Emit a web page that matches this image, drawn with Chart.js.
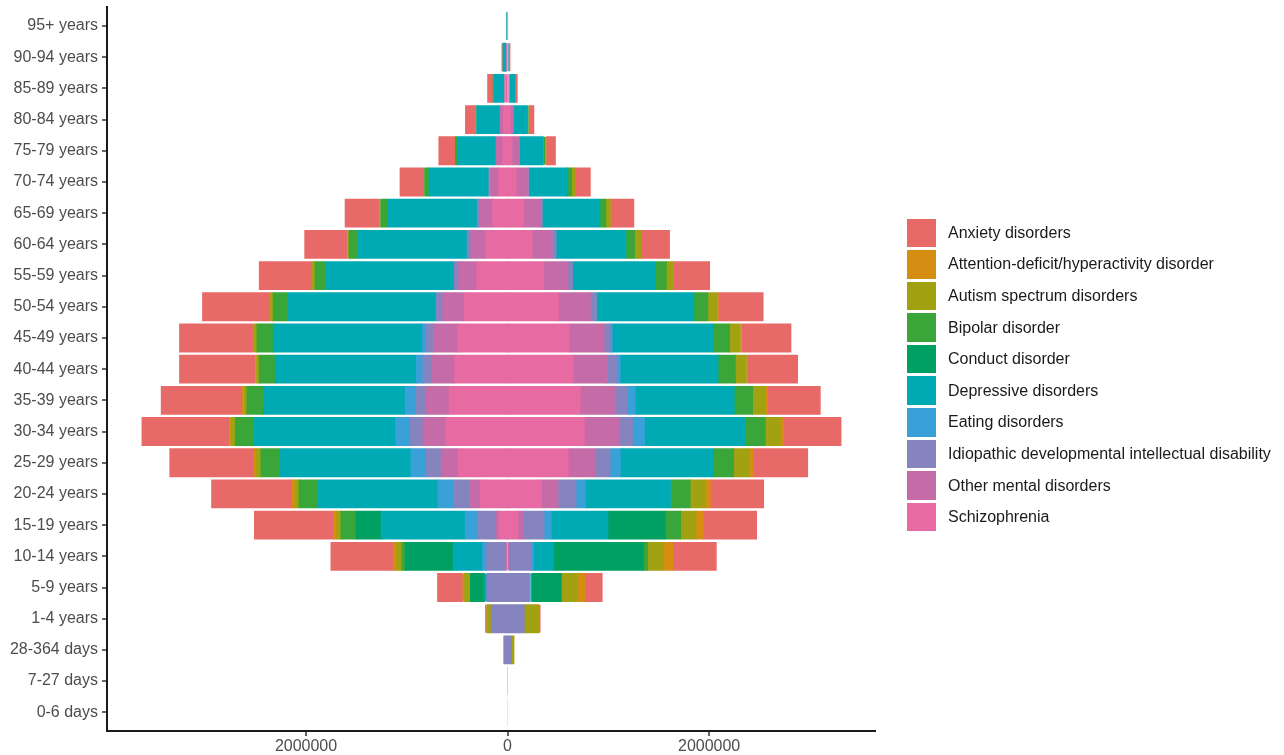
<!DOCTYPE html>
<html>
<head>
<meta charset="utf-8">
<script src="https://cdn.jsdelivr.net/npm/chart.js@4/dist/chart.umd.min.js"></script>
<style>
  html, body { margin: 0; padding: 0; background: #ffffff; }
  #wrap { position: relative; width: 1284px; height: 755px; overflow: hidden; }
  #pyramid { position: absolute; left: 0; top: 0; }
  #legend {
    position: absolute; left: 907px; top: 217px;
    font-family: "Liberation Sans", Arial, sans-serif; font-size: 16px; color: #1a1a1a;
  }
  #legend .item { display: flex; align-items: center; height: 31.6px; white-space: nowrap; }
  #legend .key { width: 29px; height: 28.6px; margin-right: 12px; flex: none; }
</style>
</head>
<body>
<div id="wrap">
  <canvas id="pyramid" width="1284" height="755"></canvas>
  <div id="legend"></div>
</div>
<script>
// Age groups, youngest first (drawn bottom to top)
const ageGroups = [
  "0-6 days", "7-27 days", "28-364 days", "1-4 years", "5-9 years", "10-14 years",
  "15-19 years", "20-24 years", "25-29 years", "30-34 years", "35-39 years", "40-44 years",
  "45-49 years", "50-54 years", "55-59 years", "60-64 years", "65-69 years", "70-74 years",
  "75-79 years", "80-84 years", "85-89 years", "90-94 years", "95+ years"
];

// Disorder names in legend order
const disorders = [
  "Anxiety disorders",
  "Attention-deficit/hyperactivity disorder",
  "Autism spectrum disorders",
  "Bipolar disorder",
  "Conduct disorder",
  "Depressive disorders",
  "Eating disorders",
  "Idiopathic developmental intellectual disability",
  "Other mental disorders",
  "Schizophrenia"
];

const disorderColors = [
  "#e86a68", "#d68e12", "#a1a112", "#3aa63a", "#00a062",
  "#00aab4", "#3aa0d8", "#8684be", "#c56ca8", "#e86aa2"
];

// Prevalent cases per age group, left half of the pyramid
const anxietyLeft    = [0, 0, 0, 17000, 248000, 618000, 784000, 801000, 837000, 869000, 801000, 751000, 728000, 668000, 523000, 423000, 340000, 234000, 159000, 99000, 50000, 13000, 3000];
const adhdLeft       = [0, 0, 0, 1000, 17000, 34000, 34000, 26000, 20000, 14000, 17000, 13000, 13000, 10000, 5000, 5000, 3000, 2000, 1000, 1000, 0, 0, 0];
const autismLeft     = [0, 0, 5000, 43000, 60000, 53000, 40000, 40000, 47000, 43000, 33000, 27000, 27000, 23000, 25000, 12000, 11000, 8000, 4000, 2000, 1000, 0, 0];
const bipolarLeft    = [0, 0, 0, 0, 2000, 33000, 152000, 183000, 192000, 189000, 165000, 159000, 162000, 143000, 109000, 86000, 66000, 44000, 20000, 10000, 8000, 2000, 0];
const conductLeft    = [0, 0, 0, 0, 139000, 476000, 248000, 5000, 0, 0, 0, 0, 0, 0, 0, 0, 0, 0, 0, 0, 0, 0, 0];
const depressiveLeft = [0, 0, 0, 0, 15000, 292000, 834000, 1191000, 1297000, 1402000, 1406000, 1400000, 1482000, 1472000, 1270000, 1085000, 890000, 590000, 380000, 230000, 104000, 30000, 8000];
const eatingLeft     = [0, 0, 0, 0, 10000, 40000, 122000, 155000, 152000, 143000, 102000, 66000, 30000, 3000, 2000, 2000, 1000, 1000, 0, 0, 0, 0, 0];
const idiopathicLeft = [1000, 2000, 35000, 162000, 204000, 192000, 183000, 166000, 149000, 129000, 106000, 89000, 79000, 63000, 43000, 37000, 23000, 10000, 5000, 3000, 2000, 1000, 0];
const otherLeft      = [0, 0, 0, 0, 0, 10000, 33000, 99000, 166000, 228000, 228000, 224000, 238000, 215000, 183000, 145000, 129000, 89000, 63000, 33000, 15000, 8000, 3000];
const schizoLeft     = [0, 0, 0, 0, 0, 5000, 82000, 271000, 492000, 611000, 579000, 526000, 496000, 430000, 304000, 218000, 149000, 89000, 50000, 40000, 18000, 6000, 2000];

// Prevalent cases per age group, right half of the pyramid
const anxietyRight    = [0, 0, 0, 17000, 173000, 430000, 529000, 530000, 542000, 570000, 523000, 492000, 490000, 443000, 354000, 281000, 231000, 152000, 89000, 48000, 20000, 4000, 1000];
const adhdRight       = [0, 0, 0, 2000, 69000, 93000, 72000, 53000, 44000, 33000, 23000, 17000, 13000, 10000, 6000, 5000, 4000, 3000, 2000, 1000, 0, 0, 0];
const autismRight     = [0, 0, 27000, 142000, 162000, 159000, 153000, 146000, 149000, 149000, 126000, 109000, 106000, 96000, 70000, 61000, 43000, 30000, 12000, 4000, 2000, 1000, 0];
const bipolarRight    = [0, 0, 0, 0, 2000, 40000, 152000, 192000, 199000, 196000, 182000, 172000, 159000, 139000, 109000, 86000, 60000, 40000, 18000, 10000, 3000, 1000, 0];
const conductRight    = [0, 0, 0, 0, 291000, 896000, 569000, 5000, 0, 0, 0, 0, 0, 0, 0, 0, 0, 0, 0, 0, 0, 0, 0];
const depressiveRight = [0, 0, 0, 0, 14000, 196000, 563000, 844000, 926000, 1002000, 983000, 970000, 1005000, 963000, 818000, 691000, 569000, 384000, 235000, 139000, 50000, 15000, 2000];
const eatingRight     = [0, 0, 0, 0, 10000, 26000, 72000, 92000, 102000, 119000, 82000, 33000, 20000, 4000, 3000, 2000, 1000, 1000, 0, 0, 0, 0, 0];
const idiopathicRight = [1000, 2000, 37000, 166000, 218000, 215000, 202000, 179000, 149000, 132000, 116000, 93000, 60000, 60000, 46000, 40000, 20000, 6000, 3000, 2000, 1000, 0, 0];
const otherRight      = [0, 0, 0, 0, 0, 12000, 56000, 163000, 265000, 347000, 347000, 343000, 347000, 315000, 242000, 199000, 166000, 119000, 72000, 30000, 10000, 4000, 1000];
const schizoRight     = [0, 0, 0, 0, 0, 4000, 103000, 337000, 602000, 761000, 721000, 649000, 612000, 506000, 357000, 242000, 159000, 86000, 44000, 27000, 10000, 3000, 1000];

// x-axis tick positions (labels show magnitudes)
const xTickValues = [-2000000, 0, 2000000];

const leftSeries  = [anxietyLeft, adhdLeft, autismLeft, bipolarLeft, conductLeft, depressiveLeft, eatingLeft, idiopathicLeft, otherLeft, schizoLeft];
const rightSeries = [anxietyRight, adhdRight, autismRight, bipolarRight, conductRight, depressiveRight, eatingRight, idiopathicRight, otherRight, schizoRight];

const FONT = '"Liberation Sans", Arial, sans-serif';

// Stack from the centre outwards: the last legend entry sits next to zero
const datasets = [];
for (let d = disorders.length - 1; d >= 0; d--) {
  datasets.push({
    label: disorders[d],
    data: leftSeries[d].map((v, i) => ({ x: -v, y: i })),
    backgroundColor: disorderColors[d],
    stack: "pyramid"
  });
  datasets.push({
    label: disorders[d],
    data: rightSeries[d].map((v, i) => ({ x: v, y: i })),
    backgroundColor: disorderColors[d],
    stack: "pyramid"
  });
}

// Axis limits: widest side of each half plus 5% of the full span
const sumAt = (series, i) => series.reduce((s, arr) => s + arr[i], 0);
const leftMax = Math.max(...ageGroups.map((_, i) => sumAt(leftSeries, i)));
const rightMax = Math.max(...ageGroups.map((_, i) => sumAt(rightSeries, i)));
const span = leftMax + rightMax;

// Tick marks only: no grid lines, so bars meet at zero without a gap
const tickMarks = {
  drawOnChartArea: false, drawTicks: true, tickLength: 5,
  lineWidth: 0, tickWidth: 1.5, tickColor: "#333333", color: "#333333"
};

// Wider segments overlap their neighbours slightly so no seams show
const seamFill = ctx => (ctx.raw && Math.abs(ctx.raw.x) >= 20000 ? 0.4 : 0);

new Chart(document.getElementById("pyramid"), {
  type: "bar",
  data: { datasets },
  options: {
    indexAxis: "y",
    responsive: false,
    animation: false,
    devicePixelRatio: 1,
    layout: { padding: { top: 7.3, right: 408, left: 0, bottom: 0 } },
    datasets: { bar: { barPercentage: 0.9, categoryPercentage: 1.0, borderWidth: 0, inflateAmount: seamFill } },
    plugins: { legend: { display: false }, tooltip: { enabled: false } },
    scales: {
      x: {
        type: "linear",
        stacked: true,
        bounds: "data",
        min: -leftMax - 0.05 * span,
        max: rightMax + 0.05 * span,
        afterBuildTicks: s => { s.ticks = xTickValues.map(v => ({ value: v })); },
        afterFit: s => { s.height = 24; s.paddingLeft = 0; s.paddingRight = 0; },
        ticks: {
          autoSkip: false, maxRotation: 0, padding: 1,
          color: "#4d4d4d", font: { family: FONT, size: 16 },
          callback: v => String(Math.abs(v))
        },
        grid: tickMarks,
        border: { display: true, color: "#1a1a1a", width: 2 }
      },
      y: {
        type: "linear",
        offset: false,
        bounds: "data",
        min: -0.6,
        max: ageGroups.length - 1 + 0.6,
        afterBuildTicks: s => { s.ticks = ageGroups.map((_, i) => ({ value: i })); },
        afterFit: s => { s.width = 107; s.paddingTop = 0; s.paddingBottom = 0; },
        ticks: {
          autoSkip: false, padding: 4,
          color: "#4d4d4d", font: { family: FONT, size: 16 },
          callback: v => ageGroups[v]
        },
        grid: Object.assign({ offset: false }, tickMarks),
        border: { display: true, color: "#1a1a1a", width: 2 }
      }
    }
  }
});

// Legend built from the same names and colours
const legend = document.getElementById("legend");
disorders.forEach((name, i) => {
  const item = document.createElement("div");
  item.className = "item";
  const key = document.createElement("div");
  key.className = "key";
  key.style.background = disorderColors[i];
  const text = document.createElement("span");
  text.textContent = name;
  item.appendChild(key);
  item.appendChild(text);
  legend.appendChild(item);
});
</script>
</body>
</html>
